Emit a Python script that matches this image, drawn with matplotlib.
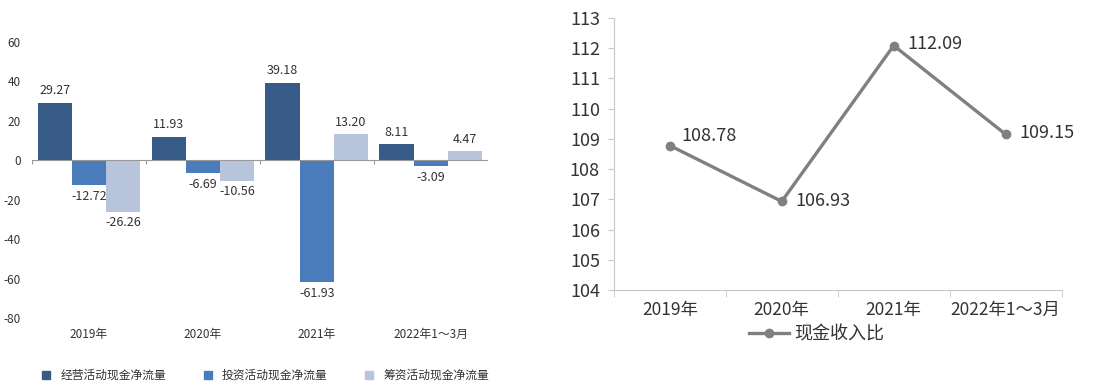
import matplotlib.pyplot as plt
from matplotlib.lines import Line2D
import numpy as np

plt.rcParams['font.family'] = ['Noto Sans CJK SC', 'DejaVu Sans']
plt.rcParams['axes.unicode_minus'] = False

categories = ['2019年', '2020年', '2021年', '2022年1～3月']
series_names = ['经营活动现金净流量', '投资活动现金净流量', '筹资活动现金净流量']
operating = [29.27, 11.93, 39.18, 8.11]
investing = [-12.72, -6.69, -61.93, -3.09]
financing = [-26.26, -10.56, 13.20, 4.47]
ratio = [108.78, 106.93, 112.09, 109.15]

colors = ['#375a87', '#4a7bba', '#b8c4dc']
text_c = '#333333'
axis_c = '#c8c8c8'

fig = plt.figure(figsize=(11.14, 3.85), dpi=100)

# left: cash flow bars
ax = fig.add_axes([0.0287, 0.174, 0.409, 0.717])
x = np.arange(len(categories))
w = 0.3
for i, (vals, c) in enumerate(zip([operating, investing, financing], colors)):
    pos = x + (i - 1) * w
    ax.bar(pos, vals, width=w, color=c)
    for px, v in zip(pos, vals):
        if v >= 0:
            ax.annotate(f'{v:.2f}', (px, v), xytext=(0, 4), textcoords='offset points',
                        ha='center', va='bottom', fontsize=9, color=text_c)
        else:
            ax.annotate(f'{v:.2f}', (px, v), xytext=(0, -3), textcoords='offset points',
                        ha='center', va='top', fontsize=9, color=text_c)

ax.axhline(0, color='#999999', lw=0.8)
ax.vlines(np.arange(-0.5, 4, 1), -2, 0, color='#999999', lw=0.8)
ax.set_xlim(-0.5, 3.5)
ax.set_ylim(-80, 60)
ax.set_yticks(range(-80, 61, 20))
ax.set_xticks(x, categories)
ax.tick_params(axis='both', length=0, labelsize=8.5, colors=text_c)
ax.tick_params(axis='x', pad=7)
ax.tick_params(axis='y', pad=8)
for s in ax.spines.values():
    s.set_visible(False)

handles = [Line2D([], [], marker='s', ls='none', color=c, markersize=6) for c in colors]
fig.legend(handles, series_names, loc='center', bbox_to_anchor=(0.235, 0.025), ncol=3,
           frameon=False, fontsize=8.5, handletextpad=0.2, columnspacing=2.5,
           labelcolor=text_c)

# right: cash income ratio line
ax2 = fig.add_axes([0.551, 0.247, 0.402, 0.706])
ax2.plot(x, ratio, color='#808080', lw=2.4, marker='o', markersize=6, label='现金收入比')
offsets = [(8, 7), (10, 0), (10, 1), (10, 1)]
for px, v, off in zip(x, ratio, offsets):
    ax2.annotate(f'{v:.2f}', (px, v), xytext=off, textcoords='offset points',
                 ha='left', va='center', fontsize=13, color=text_c)
ax2.set_xlim(-0.5, 3.5)
ax2.set_ylim(104, 113)
ax2.set_yticks(range(104, 114))
ax2.set_xticks(x, categories)
ax2.set_xticks(np.arange(-0.5, 4, 1), minor=True)
ax2.tick_params(axis='x', which='major', length=0, labelsize=12.5, colors=text_c, pad=8)
ax2.tick_params(axis='x', which='minor', length=5, color=axis_c)
ax2.tick_params(axis='y', length=4, color=axis_c, labelsize=13, colors=text_c, pad=6)
for side in ['top', 'right']:
    ax2.spines[side].set_visible(False)
for side in ['left', 'bottom']:
    ax2.spines[side].set_color(axis_c)
ax2.legend(loc='center', bbox_to_anchor=(0.733, 0.132), bbox_transform=fig.transFigure,
           frameon=False, fontsize=13, handlelength=2.2, handletextpad=0.3,
           labelcolor=text_c)

fig.savefig('out.png')
